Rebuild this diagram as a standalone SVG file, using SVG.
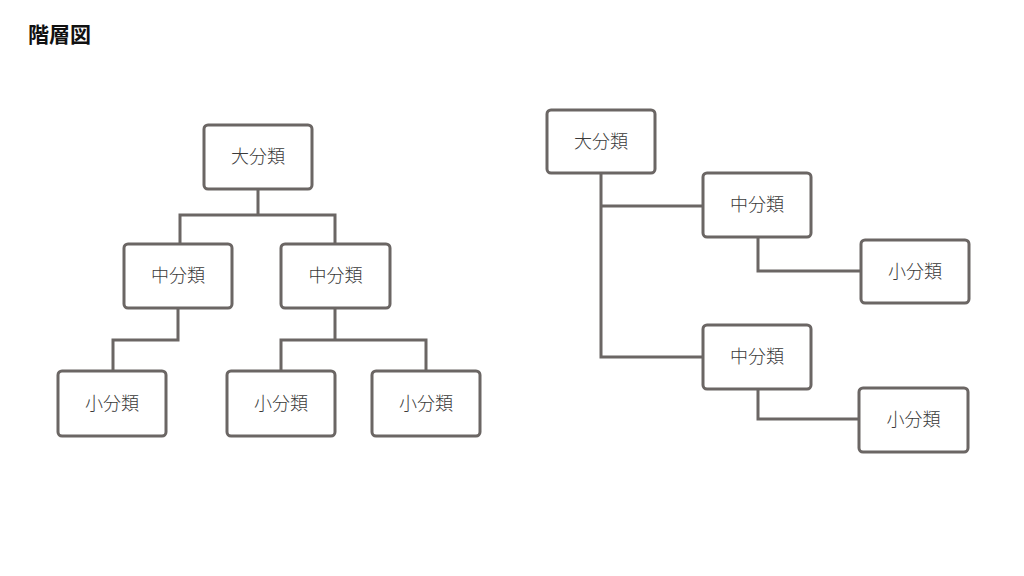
<svg xmlns="http://www.w3.org/2000/svg" width="1024" height="576" viewBox="0 0 1024 576">
<style>
.box{fill:#fff;stroke:#6b6664;stroke-width:3}
.lbl{font-family:"Noto Sans CJK JP","Noto Sans",sans-serif;font-size:18px;font-weight:300;fill:#3a3a3a;text-anchor:middle}
.con{fill:none;stroke:#6b6664;stroke-width:3}
.title{font-family:"Noto Sans CJK JP","Noto Sans",sans-serif;font-size:21px;font-weight:bold;fill:#111}
</style>
<rect width="1024" height="576" fill="#fff"/>
<text class="title" x="28" y="42">階層図</text>
<g id="connectors">
<path class="con" d="M258 189V215M180 244V215H335V244"/>
<path class="con" d="M178 308V340H113V371"/>
<path class="con" d="M335 308V340M281 371V340H426V371"/>
<path class="con" d="M601 173V357H703M601 206H703"/>
<path class="con" d="M758 237V271H861"/>
<path class="con" d="M758 389V419H859"/>
</g>
<g id="n1"><rect class="box" x="204" y="125" width="108" height="64" rx="4"/><text class="lbl" x="258" y="163">大分類</text></g>
<g id="n2"><rect class="box" x="124" y="244" width="108" height="64" rx="4"/><text class="lbl" x="178" y="282">中分類</text></g>
<g id="n3"><rect class="box" x="281" y="244" width="109" height="64" rx="4"/><text class="lbl" x="335.5" y="282">中分類</text></g>
<g id="n4"><rect class="box" x="58" y="371" width="108" height="65" rx="4"/><text class="lbl" x="112" y="409.5">小分類</text></g>
<g id="n5"><rect class="box" x="227" y="371" width="108" height="65" rx="4"/><text class="lbl" x="281" y="409.5">小分類</text></g>
<g id="n6"><rect class="box" x="372" y="371" width="108" height="65" rx="4"/><text class="lbl" x="426" y="409.5">小分類</text></g>
<g id="n7"><rect class="box" x="547" y="110" width="108" height="63" rx="4"/><text class="lbl" x="601" y="147.5">大分類</text></g>
<g id="n8"><rect class="box" x="703" y="173" width="108" height="64" rx="4"/><text class="lbl" x="757" y="211">中分類</text></g>
<g id="n9"><rect class="box" x="861" y="240" width="108" height="63" rx="4"/><text class="lbl" x="915" y="277.5">小分類</text></g>
<g id="n10"><rect class="box" x="703" y="325" width="108" height="64" rx="4"/><text class="lbl" x="757" y="363">中分類</text></g>
<g id="n11"><rect class="box" x="859" y="388" width="109" height="64" rx="4"/><text class="lbl" x="913.5" y="426">小分類</text></g>
</svg>
